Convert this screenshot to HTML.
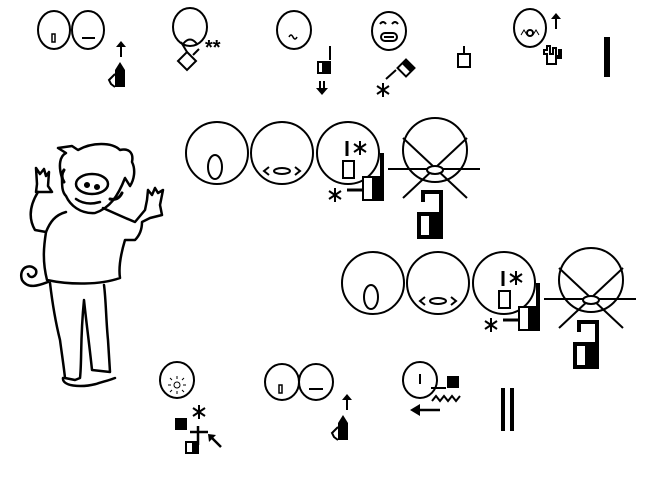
<!DOCTYPE html>
<html><head><meta charset="utf-8"><style>html,body{margin:0;padding:0;background:#fff;width:658px;height:487px;overflow:hidden}</style></head>
<body>
<svg width="658" height="487" viewBox="0 0 658 487" xmlns="http://www.w3.org/2000/svg" font-family="Liberation Sans, sans-serif">
<defs>
<g id="ast" stroke="#000" stroke-width="2"><line x1="0" y1="-7" x2="0" y2="7"/><line x1="-6" y1="-4" x2="6" y2="4"/><line x1="-6" y1="4" x2="6" y2="-4"/></g>
<g id="cluster" fill="none" stroke="#000" stroke-width="2">
  <circle cx="0" cy="0" r="31"/>
  <ellipse cx="-2" cy="14" rx="7" ry="12"/>
  <circle cx="65" cy="0" r="31"/>
  <ellipse cx="65" cy="18" rx="8" ry="3"/>
  <polyline points="52,14 47,18 52,22"/><polyline points="78,14 83,18 78,22"/>
  <circle cx="131" cy="0" r="31"/>
  <line x1="130" y1="-12" x2="130" y2="3" stroke-width="3"/>
  <use href="#ast" x="143" y="-5"/>
  <rect x="126" y="8" width="11" height="17"/>
  <line x1="130" y1="37" x2="146" y2="37" stroke-width="3"/>
  <use href="#ast" x="118" y="42"/>
  <rect x="146" y="24" width="20" height="23" fill="#fff"/>
  <rect x="156" y="24" width="10" height="23" fill="#000"/>
  <rect x="163" y="0" width="4" height="47" fill="#000" stroke="none"/>
  <circle cx="218" cy="-3" r="32"/>
  <line x1="186" y1="-15" x2="250" y2="45"/><line x1="250" y1="-15" x2="186" y2="45"/>
  <line x1="171" y1="16" x2="263" y2="16"/>
  <ellipse cx="218" cy="17" rx="8" ry="4" fill="#fff"/>
  <polyline points="206,49 206,39 224,39 224,84" stroke-width="4"/>
  <rect x="202" y="61" width="22" height="23" fill="#fff" stroke-width="4"/>
  <rect x="213" y="61" width="11" height="23" fill="#000"/>
</g>
<g id="hand"><path d="M3,10 L8,2 L13,10 L13,27 L3,27 Z" fill="#000"/><polyline points="3,14 -3,20 -1,24 3,27" fill="none" stroke="#000" stroke-width="2"/></g>
<g id="uparr"><line x1="0" y1="4" x2="0" y2="15" stroke="#000" stroke-width="2"/><polygon points="-5,5 5,5 0,-1" fill="#000"/></g>
</defs>

<!-- top row -->
<g fill="none" stroke="#000" stroke-width="2">
  <ellipse cx="54" cy="30" rx="16" ry="19"/><ellipse cx="88" cy="30" rx="16" ry="19"/>
  <rect x="52" y="34" width="3" height="8" stroke-width="1.5"/>
  <line x1="82" y1="38" x2="95" y2="38"/>
  <ellipse cx="190" cy="27" rx="17" ry="19"/>
  <path d="M183,44 Q190,35 197,44"/>
  <polygon points="187,52 196,61 187,70 178,61"/>
  <line x1="181" y1="42" x2="187" y2="52"/><line x1="193" y1="55" x2="199" y2="49"/>
  <ellipse cx="294" cy="30" rx="17" ry="19"/>
  <path d="M289,37 q2,-4 4,0 t4,0" stroke-width="1.5"/>
  <line x1="330" y1="46" x2="330" y2="60"/>
  <rect x="318" y="62" width="12" height="11"/>
  <ellipse cx="389" cy="31" rx="17" ry="19"/>
  <path d="M380,24 q3,-4 6,0 M392,24 q3,-4 6,0"/>
  <rect x="381" y="33" width="16" height="8" rx="4"/><line x1="384" y1="37" x2="394" y2="37"/>
  <line x1="386" y1="79" x2="396" y2="70"/>
  <rect x="458" y="54" width="12" height="13"/><line x1="464" y1="46" x2="464" y2="54"/>
  <ellipse cx="530" cy="28" rx="16" ry="19"/>
  <circle cx="530" cy="33" r="3"/>
  <path d="M521,35 l3,-5 l3,5 M533,35 l3,-5 l3,5" stroke-width="1"/>
  <path d="M547,64 V54 h-3 V50 h3 V46 h3 v8 h3 V48 h3 v8 h3 V50 h2 v8 h-5 v6 Z" stroke-width="2"/>
</g>
<use href="#uparr" x="121" y="42"/>
<use href="#hand" x="112" y="60"/>
<text x="205" y="54" font-size="20" font-weight="bold">**</text>
<rect x="322" y="62" width="8" height="11" fill="#000"/>
<g stroke="#000" stroke-width="2"><line x1="320" y1="81" x2="320" y2="90"/><line x1="324" y1="81" x2="324" y2="90"/></g>
<polygon points="316,88 328,88 322,95" fill="#000"/>
<g transform="translate(406,68) rotate(45)"><rect x="-6" y="-6" width="12" height="12" fill="#fff" stroke="#000" stroke-width="2"/><rect x="-6" y="-6" width="12" height="6" fill="#000"/></g>
<use href="#ast" x="383" y="90"/>
<use href="#uparr" x="556" y="14"/>
<rect x="604" y="37" width="6" height="40" fill="#000"/>

<!-- clusters -->
<use href="#cluster" x="217" y="153"/>
<use href="#cluster" x="373" y="283"/>

<!-- pig -->
<g fill="none" stroke="#000" stroke-width="2.5" stroke-linejoin="round" stroke-linecap="round">
  <path d="M62,178 C58,165 60,156 66,153 L58,148 L72,146 L78,150 C92,142 112,142 120,150 C128,148 134,152 132,162 C136,170 134,180 130,186 L125,178 C118,196 110,208 95,213 C80,214 70,205 66,196 C62,192 62,186 62,178 Z"/>
  <ellipse cx="92" cy="184" rx="16" ry="10"/>
  <circle cx="87" cy="185" r="1.8" fill="#000"/><circle cx="97" cy="187" r="1.8" fill="#000"/>
  <path d="M76,199 Q86,206 100,202"/>
  <path d="M64,170 q-4,6 0,12 M110,199 q8,2 12,-6" stroke-width="3"/>
  <path d="M36,168 l4,6 l4,-5 l2,7 l3,-4 l-1,14 l4,6 l-16,0 l1,-8 Z"/>
  <path d="M38,192 C30,205 28,218 35,230 L46,232 C44,245 42,260 47,280 C70,285 100,285 120,278 C118,265 122,250 125,240 L135,240 C140,235 142,228 142,222 L150,218 L162,215 L160,205 L163,190 L158,193 L155,188 L152,195 L148,190 L147,200 L145,210 L135,222 C125,218 112,212 103,208"/>
  <path d="M66,212 C55,215 50,222 46,232"/>
  <path d="M50,283 C52,300 55,320 60,340 C62,355 64,368 65,378 L75,380 L80,378 C82,360 80,340 84,300 C86,320 90,350 92,370 L110,372 L108,340 C106,320 106,300 104,285"/>
  <path d="M63,378 C62,386 80,388 96,384 C102,382 110,380 115,378"/>
  <path d="M48,282 C40,285 28,290 22,280 C18,268 30,262 36,270 C38,276 30,280 28,274"/>
</g>

<!-- bottom row -->
<g fill="none" stroke="#000" stroke-width="2">
  <ellipse cx="177" cy="380" rx="17" ry="18"/>
  <circle cx="177" cy="385" r="3" stroke-width="1"/>
  <path d="M171,385 h-3 M183,385 h3 M177,379 v-3 M177,391 v3 M172,380 l-2,-2 M182,380 l2,-2 M172,390 l-2,2 M182,390 l2,2" stroke-width="1"/>
  <line x1="198" y1="426" x2="198" y2="445" stroke-width="2.5"/>
  <line x1="190" y1="432" x2="208" y2="432" stroke-width="2.5"/>
  <rect x="186" y="442" width="12" height="11"/>
  <line x1="221" y1="447" x2="212" y2="438" stroke-width="2.5"/>
  <ellipse cx="282" cy="382" rx="17" ry="18"/><ellipse cx="316" cy="382" rx="17" ry="18"/>
  <rect x="279" y="385" width="3" height="8" stroke-width="1.5"/>
  <line x1="309" y1="389" x2="323" y2="389"/>
  <ellipse cx="420" cy="380" rx="17" ry="18"/>
  <line x1="420" y1="374" x2="420" y2="384"/>
  <line x1="431" y1="388" x2="446" y2="388"/>
  <polyline points="432,401 436,396 440,401 444,396 448,401 452,396 456,401 460,396"/>
  <line x1="418" y1="410" x2="440" y2="410" stroke-width="2.5"/>
</g>
<rect x="175" y="418" width="12" height="12" fill="#000"/>
<use href="#ast" x="199" y="412"/>
<rect x="192" y="442" width="6" height="11" fill="#000"/>
<polygon points="208,434 216,435 209,442" fill="#000"/>
<use href="#uparr" x="347" y="395"/>
<use href="#hand" x="335" y="413"/>
<rect x="447" y="376" width="12" height="12" fill="#000"/>
<polygon points="410,410 420,404 420,416" fill="#000"/>
<rect x="501" y="388" width="4" height="43" fill="#000"/>
<rect x="510" y="388" width="4" height="43" fill="#000"/>
</svg>
</body></html>
